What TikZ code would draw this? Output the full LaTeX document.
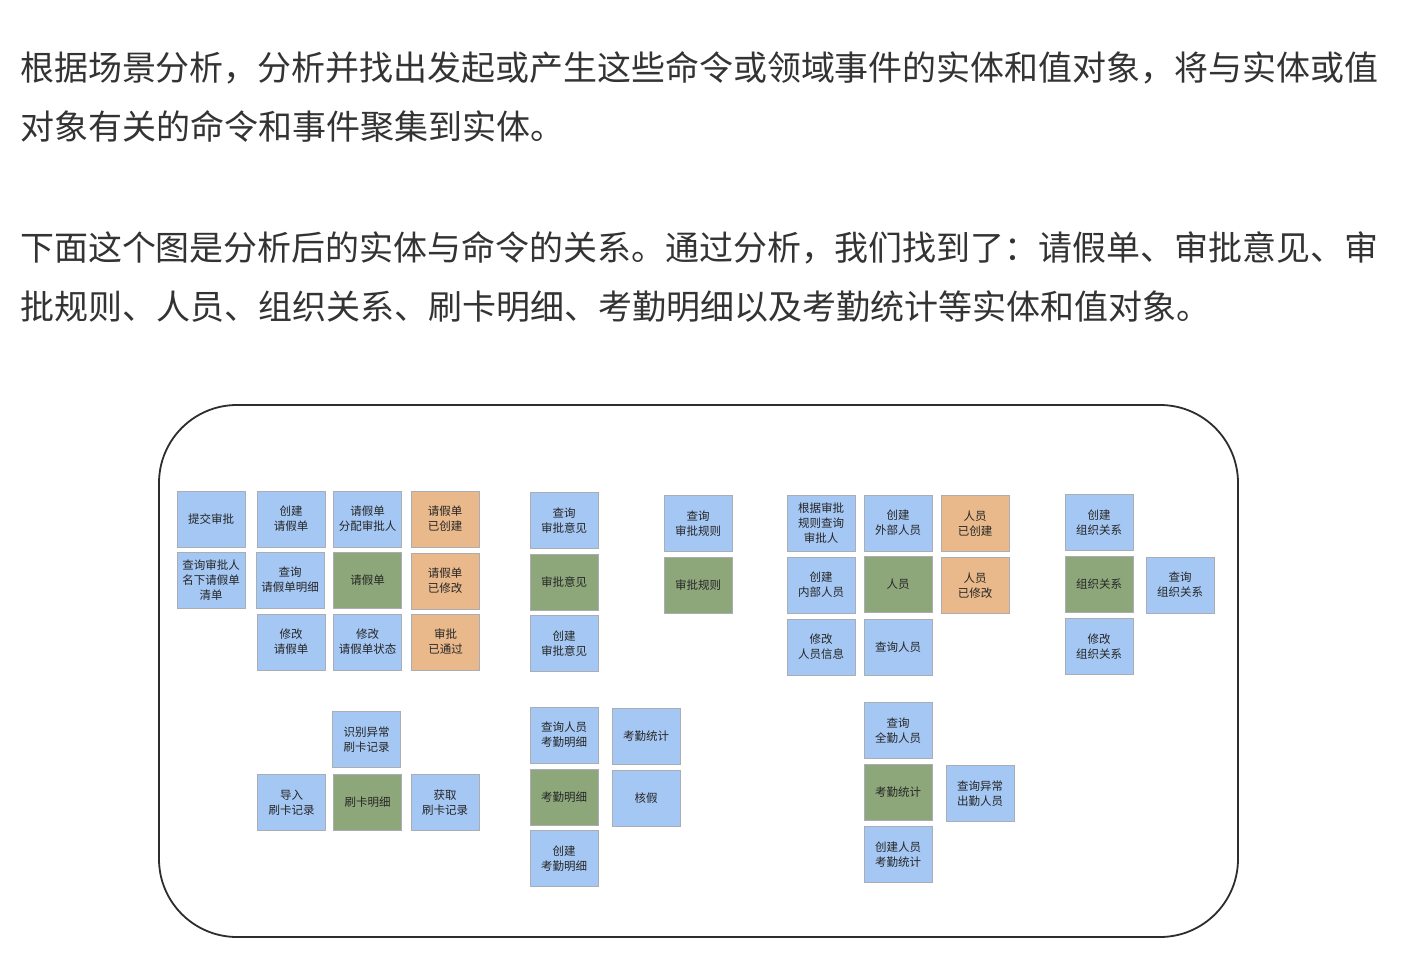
\documentclass[tikz,border=0pt]{standalone}
\usepackage{fontspec}
\setmainfont{Noto Sans CJK SC}
\definecolor{bfill}{RGB}{165,199,243}
\definecolor{gfill}{RGB}{141,167,123}
\definecolor{ofill}{RGB}{233,185,139}
\definecolor{bord}{RGB}{170,174,180}
\definecolor{txt}{RGB}{51,51,51}
\definecolor{frame}{RGB}{45,45,45}
\tikzset{
  card/.style={draw=bord, line width=1pt, minimum width=68pt, minimum height=56pt,
    inner sep=1pt, align=center, text=black!85,
    font=\fontsize{11.5}{15}\selectfont},
  cmd/.style={card, fill=bfill},
  ent/.style={card, fill=gfill},
  evt/.style={card, fill=ofill},
  para/.style={anchor=west, inner sep=0pt, text=txt, font=\fontsize{34}{40}\selectfont}
}
\begin{document}
\begin{tikzpicture}[x=1pt,y=-1pt]
\fill[white] (0,0) rectangle (1406,968);
\useasboundingbox (0,0) rectangle (1406,968);
% paragraphs
\node[para] (p1) at (20,68) {\resizebox{1358pt}{\height}{根据场景分析，分析并找出发起或产生这些命令或领域事件的实体和值对象，将与实体或值}};
\node[para] (p2) at (20,127) {对象有关的命令和事件聚集到实体。};
\node[para] (p3) at (20,248) {\resizebox{1358pt}{\height}{下面这个图是分析后的实体与命令的关系。通过分析，我们找到了：请假单、审批意见、审}};
\node[para] (p4) at (20,307) {批规则、人员、组织关系、刷卡明细、考勤明细以及考勤统计等实体和值对象。};
% frame
\draw[frame, line width=1.8pt, rounded corners=78pt] (159,405) rectangle (1238,937);
% group 1
\node[cmd] (a1) at (211,519) {提交审批};
\node[cmd] (a2) at (291,519) {创建\\请假单};
\node[cmd] (a3) at (367.5,519) {请假单\\分配审批人};
\node[evt] (a4) at (445,519) {请假单\\已创建};
\node[cmd] (b1) at (211,580) {查询审批人\\名下请假单\\清单};
\node[cmd] (b2) at (290,580) {查询\\请假单明细};
\node[ent] (b3) at (367.5,580) {请假单};
\node[evt] (b4) at (445,581) {请假单\\已修改};
\node[cmd] (c2) at (291,642) {修改\\请假单};
\node[cmd] (c3) at (367.5,642) {修改\\请假单状态};
\node[evt] (c4) at (445.5,642) {审批\\已通过};
% group 2
\node[cmd] (d1) at (564,520.5) {查询\\审批意见};
\node[ent] (d2) at (564,582.5) {审批意见};
\node[cmd] (d3) at (564,643.5) {创建\\审批意见};
\node[cmd] (e1) at (698,523.5) {查询\\审批规则};
\node[ent] (e2) at (698,585.5) {审批规则};
% group 3
\node[cmd] (f1) at (821,523) {根据审批\\规则查询\\审批人};
\node[cmd] (f2) at (898,523) {创建\\外部人员};
\node[evt] (f3) at (975,523.5) {人员\\已创建};
\node[cmd] (g1) at (821,585) {创建\\内部人员};
\node[ent] (g2) at (898,584) {人员};
\node[evt] (g3) at (975,585.5) {人员\\已修改};
\node[cmd] (h1) at (821,647) {修改\\人员信息};
\node[cmd] (h2) at (898,647) {查询人员};
% group 4
\node[cmd] (i1) at (1099,522.5) {创建\\组织关系};
\node[ent] (i2) at (1099,584.5) {组织关系};
\node[cmd] (i3) at (1099,646.5) {修改\\组织关系};
\node[cmd] (i4) at (1180,585) {查询\\组织关系};
% group 5
\node[cmd] (j1) at (366.5,739.5) {识别异常\\刷卡记录};
\node[cmd] (j2) at (291.5,802.5) {导入\\刷卡记录};
\node[ent] (j3) at (367.5,802.5) {刷卡明细};
\node[cmd] (j4) at (445,802.5) {获取\\刷卡记录};
% group 6
\node[cmd] (k1) at (564,735) {查询人员\\考勤明细};
\node[ent] (k2) at (564,797) {考勤明细};
\node[cmd] (k3) at (564,858.5) {创建\\考勤明细};
\node[cmd] (k4) at (646,736.5) {考勤统计};
\node[cmd] (k5) at (646,798.5) {核假};
% group 7
\node[cmd] (l1) at (898,730.5) {查询\\全勤人员};
\node[ent] (l2) at (898,792.5) {考勤统计};
\node[cmd] (l3) at (898,854.5) {创建人员\\考勤统计};
\node[cmd] (l4) at (980,793.5) {查询异常\\出勤人员};
\end{tikzpicture}
\end{document}
